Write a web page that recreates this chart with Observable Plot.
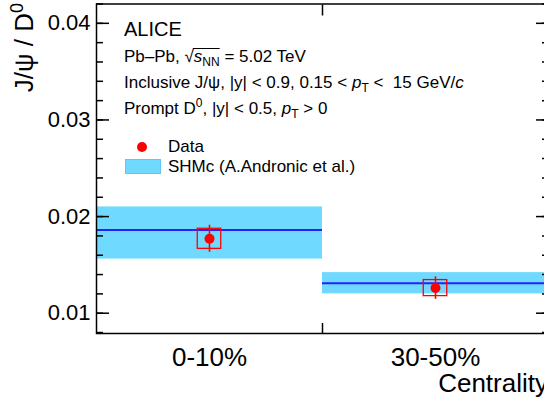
<!DOCTYPE html>
<html><head><meta charset="utf-8">
<script src="https://cdn.jsdelivr.net/npm/d3@7"></script>
<script src="https://cdn.jsdelivr.net/npm/@observablehq/plot@0.6"></script>
<style>
html,body{margin:0;padding:0;overflow:hidden;background:#fff;}
svg{display:block;max-width:none !important;}
</style></head><body><div id="chart"></div>
<script>
// ---- data ----
const categories = ["0-10%", "30-50%"];
const ratio = [0.0177, 0.0126];          // J/psi / D0 data points
const statErr = [0.0014, 0.00117];       // statistical errors
const sysErr = [0.00104, 0.00083];       // systematic errors (boxes)
const shmCentral = [0.0186, 0.0131];     // SHMc central value
const shmLow = [0.0156, 0.0120];         // SHMc band low
const shmHigh = [0.0210, 0.0142];        // SHMc band high
const yMajorTicks = [0.01, 0.02, 0.03, 0.04];
const yTickLabels = ["0.01", "0.02", "0.03", "0.04"];
const legendLabels = ["Data", "SHMc (A.Andronic et al.)"];
const xTitle = "Centrality";

const FONT = '"Liberation Sans", Arial, Helvetica, sans-serif';
const CYAN = "#70d9ff", BLUE = "#2222ff", RED = "#ff0000";

const rows = categories.map((c, i) => ({
  cat: c, x0: i, x1: i + 1, xc: i + 0.5,
  v: ratio[i], stat: statErr[i], sys: sysErr[i],
  mid: shmCentral[i], lo: shmLow[i], hi: shmHigh[i]
}));
const yMinorTicks = d3.range(4, 22).map(k => k * 0.002);
const boxHalf = 0.052;

const plot = Plot.plot({
  width: 552, height: 399,
  marginLeft: 96, marginRight: 4, marginTop: 3.5, marginBottom: 66,
  x: {domain: [0, 2], label: null},
  y: {domain: [0.0079, 0.042], label: null},
  style: {fontFamily: FONT, color: "black", background: "white", overflow: "visible", maxWidth: "none"},
  marks: [
    Plot.rect(rows, {x1: "x0", x2: "x1", y1: "lo", y2: "hi", fill: CYAN}),
    Plot.ruleY(rows, {y: "mid", x1: "x0", x2: "x1", stroke: BLUE, strokeWidth: 2}),
    Plot.rect(rows, {x1: d => d.xc - boxHalf, x2: d => d.xc + boxHalf, y1: d => d.v - d.sys, y2: d => d.v + d.sys,
      fill: "none", stroke: RED, strokeWidth: 1.3}),
    Plot.ruleX(rows, {x: "xc", y1: d => d.v - d.stat, y2: d => d.v + d.stat, stroke: RED, strokeWidth: 1.6}),
    Plot.dot(rows, {x: "xc", y: "v", r: 5, fill: RED, stroke: null}),
    // inward ticks
    Plot.axisY(yMinorTicks, {anchor: "left", tickSize: -7, tickFormat: () => "", label: null, strokeWidth: 1.5}),
    Plot.axisY(yMajorTicks, {anchor: "left", tickSize: -13, tickFormat: () => "", label: null, strokeWidth: 1.5}),
    Plot.axisY(yMinorTicks, {anchor: "right", tickSize: -7, tickFormat: () => "", label: null, strokeWidth: 1.5}),
    Plot.axisY(yMajorTicks, {anchor: "right", tickSize: -13, tickFormat: () => "", label: null, strokeWidth: 1.5}),
    Plot.axisY(yMajorTicks, {anchor: "left", tickSize: 0, tickPadding: 6, fontSize: 22,
      tickFormat: d => yTickLabels[yMajorTicks.indexOf(d)], label: null}),
    Plot.axisX([1], {anchor: "bottom", tickSize: -10, tickFormat: () => "", label: null, strokeWidth: 1.5}),
    Plot.axisX([1], {anchor: "top", tickSize: -11, tickFormat: () => "", label: null, strokeWidth: 1.5}),
    Plot.axisX(rows.map(r => r.xc), {anchor: "bottom", tickSize: 0, tickPadding: 14.5, fontSize: 26,
      tickFormat: d => categories[Math.floor(d)], label: null}),
    Plot.frame({stroke: "black", strokeWidth: 1.5})
  ]
});
document.getElementById("chart").appendChild(plot);

// ---- annotations ----
const svg = d3.select(plot);
const g = svg.append("g").attr("font-family", FONT).attr("fill", "black").attr("text-anchor", "start");

// axis titles
g.append("text").attr("x", 548).attr("y", 392).attr("text-anchor", "end").attr("font-size", 26).text(xTitle);
const yt = g.append("text").attr("transform", "translate(33,3) rotate(-90)").attr("text-anchor", "end").attr("font-size", 26);
yt.append("tspan").text("J/\u03C8 / D");
yt.append("tspan").attr("dy", -10).attr("font-size", 18).text("0");

g.append("text").attr("x", 124).attr("y", 36).attr("font-size", 20).text("ALICE");

function line(y, parts) {
  const t = g.append("text").attr("x", 124).attr("y", y).attr("font-size", 17);
  let shift = 0;
  for (const p of parts) {
    const s = t.append("tspan").text(p.t);
    const target = p.sub ? 4 : p.sup ? -7 : 0;
    if (target !== shift) { s.attr("dy", target - shift); shift = target; }
    if (p.sub || p.sup) s.attr("font-size", 12);
    if (p.it) s.attr("font-style", "italic");
  }
  return t;
}
const l2 = line(62, [{t: "Pb\u2013Pb, \u221A"}, {t: "s", it: true}, {t: "NN", sub: true}, {t: " = 5.02 TeV"}]);
line(88, [{t: "Inclusive J/\u03C8, |y| < 0.9, 0.15 < "}, {t: "p", it: true}, {t: "T", sub: true}, {t: " <  15 GeV/"}, {t: "c", it: true}]);
line(114, [{t: "Prompt D"}, {t: "0", sup: true}, {t: ", |y| < 0.5, "}, {t: "p", it: true}, {t: "T", sub: true}, {t: " > 0"}]);

// overline for the square root
const tn = l2.node();
const rootBox = tn.getExtentOfChar(7);
const nnBox = tn.getExtentOfChar(10);
g.append("line").attr("x1", rootBox.x + rootBox.width - 1).attr("x2", nnBox.x + nnBox.width)
  .attr("y1", rootBox.y + 1.5).attr("y2", rootBox.y + 1.5).attr("stroke", "black").attr("stroke-width", 1);

// legend
g.append("circle").attr("cx", 142).attr("cy", 147).attr("r", 5).attr("fill", RED);
g.append("text").attr("x", 168).attr("y", 152).attr("font-size", 17).text(legendLabels[0]);
g.append("rect").attr("x", 125.5).attr("y", 159.5).attr("width", 35).attr("height", 14)
  .attr("fill", CYAN).attr("stroke", "#5fc8f0").attr("stroke-width", 1);
g.append("text").attr("x", 168).attr("y", 172).attr("font-size", 17).text(legendLabels[1]);
</script></body></html>
